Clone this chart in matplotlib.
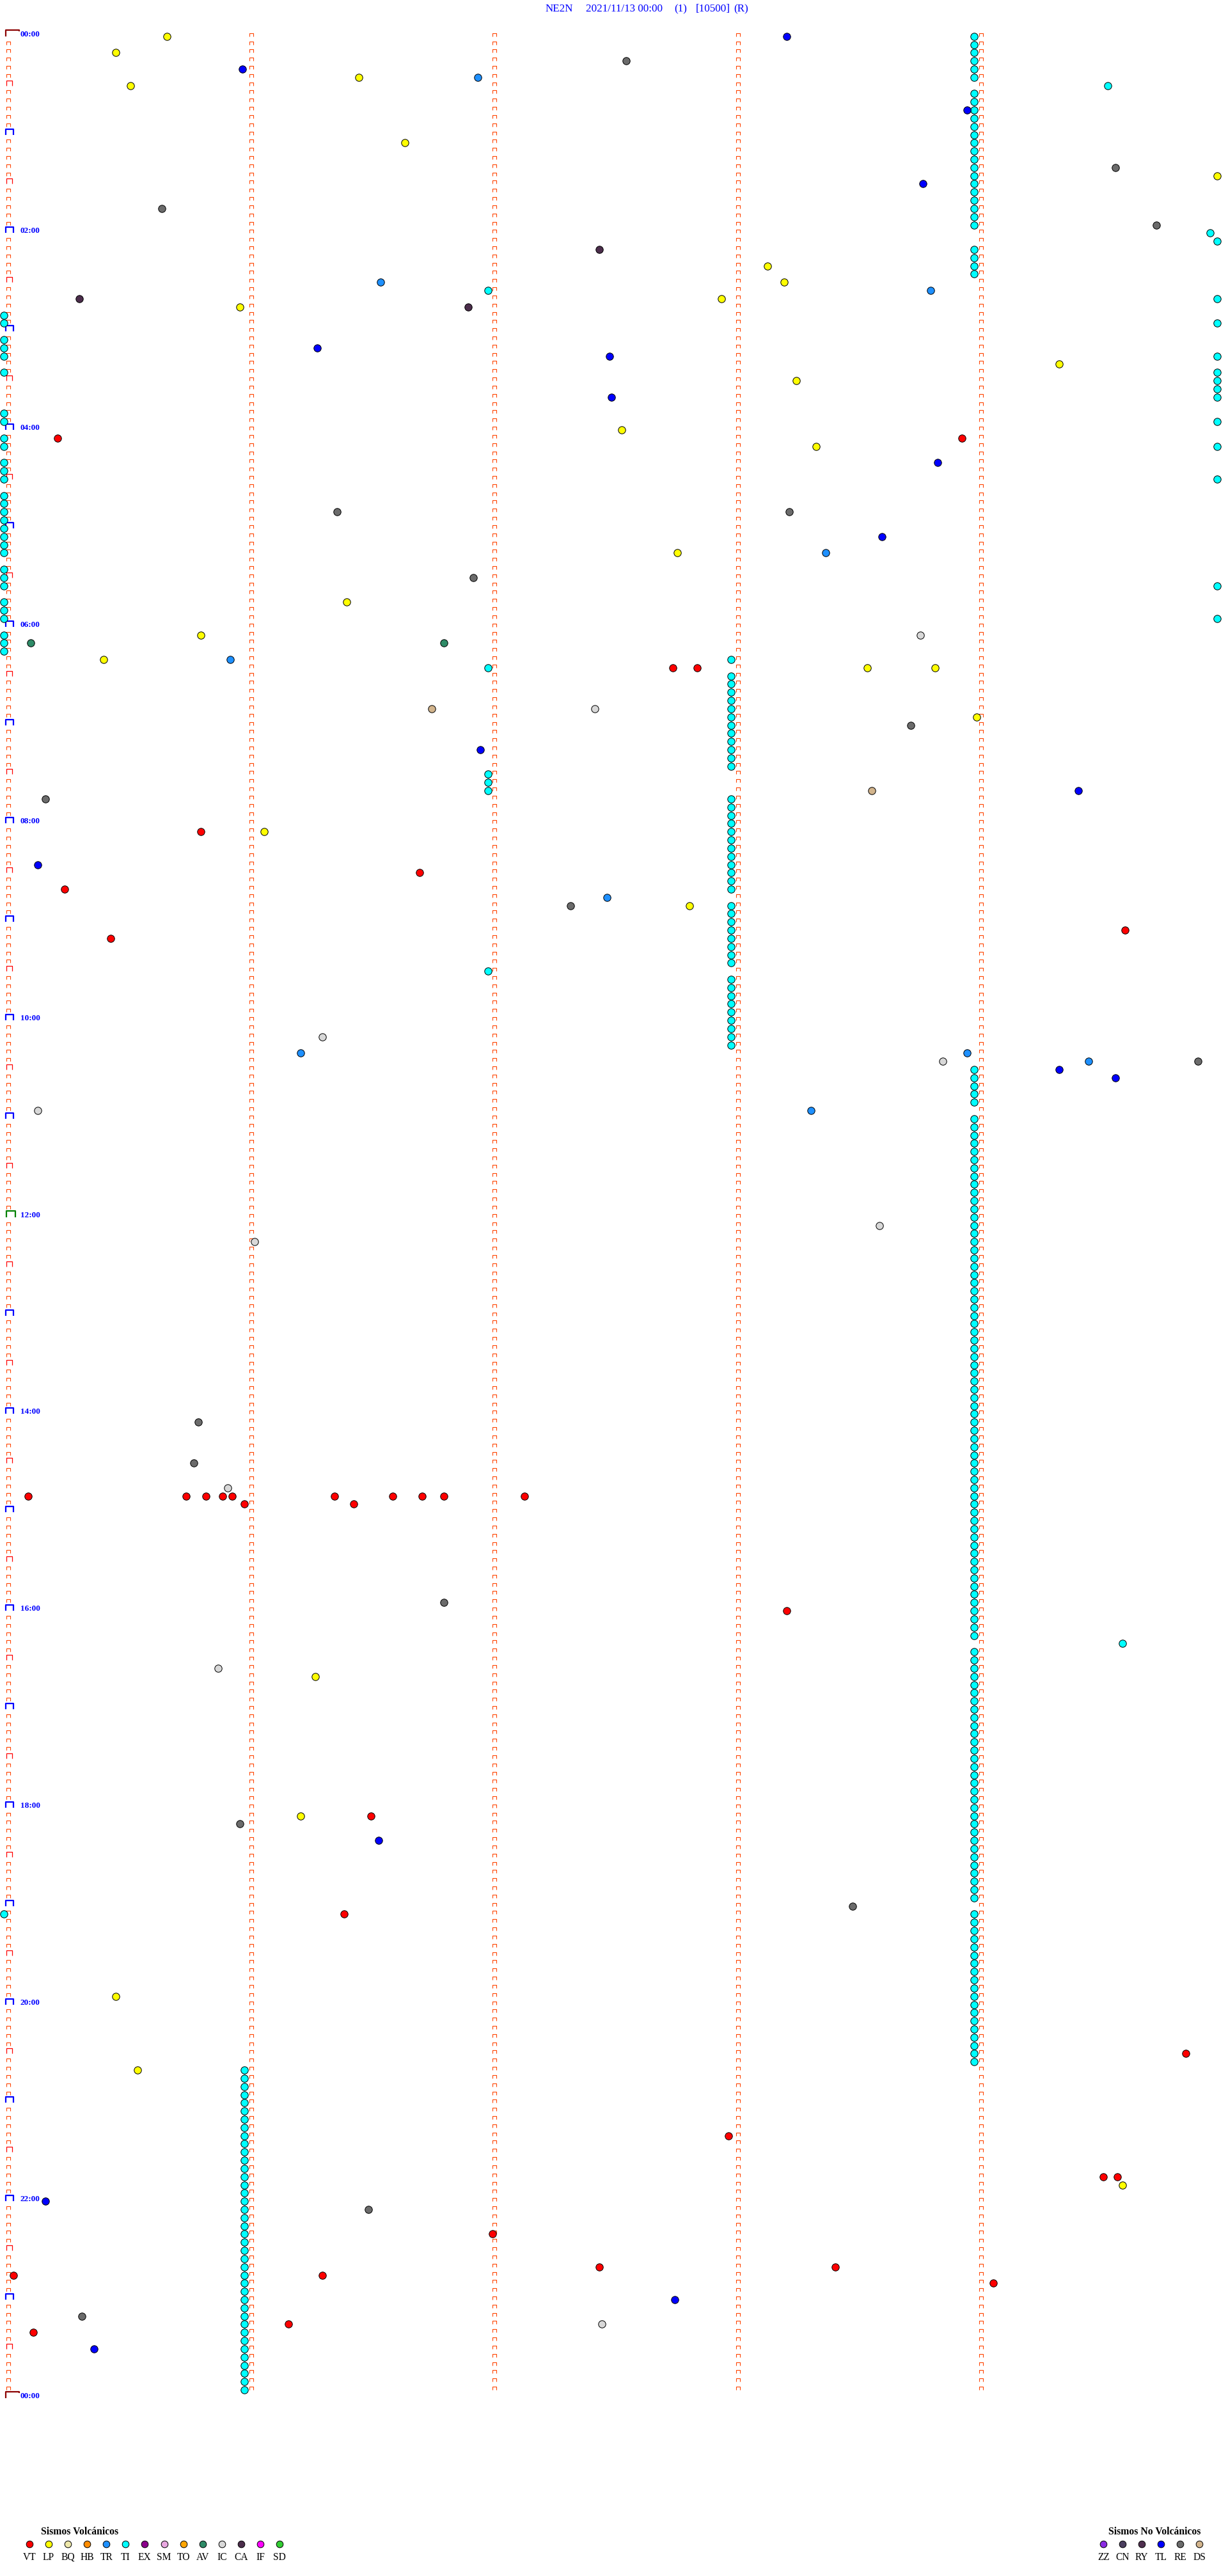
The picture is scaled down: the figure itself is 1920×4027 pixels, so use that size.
import numpy as np
import matplotlib
matplotlib.use("Agg")
import matplotlib.pyplot as plt
from matplotlib.transforms import ScaledTranslation

plt.rcParams['font.family'] = ['Liberation Serif', 'DejaVu Serif']

# ---------------- data ----------------
TITLE_PARTS = ['NE2N', '2021/11/13 00:00', '(1)', '[10500]', '(R)']
MIN_PER_ROW = 5          # each helicorder line spans 5 minutes
N_ROWS = 288             # 24 h
HOUR_LABELS = ['00:00', '02:00', '04:00', '06:00', '08:00', '10:00', '12:00',
               '14:00', '16:00', '18:00', '20:00', '22:00', '00:00']

VOLC_TYPES = ['VT', 'LP', 'BQ', 'HB', 'TR', 'TI', 'EX', 'SM', 'TO', 'AV', 'IC', 'CA', 'IF', 'SD']
VOLC_COLORS = ['#FF0000', '#FFFF00', '#EEE8AA', '#FF8C00', '#1E90FF', '#00FFFF', '#8B008B',
               '#E8A8E0', '#FFA500', '#2E8B67', '#D8D8D8', '#4B2D4B', '#FF00FF', '#32CD32']
NONVOLC_TYPES = ['ZZ', 'CN', 'RY', 'TL', 'RE', 'DS']
NONVOLC_COLORS = ['#8A2BE2', '#4B3F5F', '#4F2F4F', '#0000FF', '#6B6B6B', '#D2B48C']

# event times, minutes after 00:00
VT = [245.22, 248.94, 387.75, 387.85, 485.81, 511.71, 520.25, 549.61, 550.44,
      890.10, 890.75, 890.83, 890.90, 890.94, 891.36, 891.60, 891.72, 891.81, 892.14,
      895.99, 896.44, 963.22, 1086.51, 1146.40, 1234.86, 1282.98, 1309.52, 1309.58,
      1342.01, 1362.45, 1363.42, 1365.04, 1366.31, 1374.07, 1396.17, 1400.12]
LP = [0.67, 10.46, 26.46, 30.52, 66.65, 89.99, 143.14, 153.21, 162.95, 165.97, 204.34,
      213.26, 242.54, 253.34, 317.77, 346.41, 365.81, 380.41, 388.55, 388.83, 419.00,
      486.07, 532.82, 1001.28, 1086.22, 1195.46, 1240.55, 1314.60]
TR = [26.95, 151.55, 158.81, 318.38, 380.93, 527.48, 621.22, 623.96, 629.46, 658.32]
TI = [3.99, 8.99, 13.99, 18.99, 23.99, 28.99, 34.54,
      38.99, 43.99, 48.99, 53.99, 58.99, 63.99, 68.99, 73.99, 78.99, 83.99, 88.99,
      93.99, 98.99, 103.99, 108.99, 113.99, 118.99, 124.96, 129.99,
      133.99, 138.99, 143.99, 148.99, 156.99, 164.99,
      170.0, 175.0, 179.99, 185.0, 190.0, 195.0, 199.99, 205.0, 209.99, 214.99, 219.99, 224.99,
      230.0, 235.0, 239.99, 245.0, 250.0, 254.99, 260.0, 265.0, 270.0, 274.99,
      280.0, 285.0, 290.0, 295.0, 300.0, 305.0, 310.0, 315.0, 325.0, 330.0, 335.0, 339.99,
      345.0, 350.0, 355.0, 359.99, 365.0, 370.0, 375.0,
      382.99, 386.99,
      392.99, 397.99, 402.99, 407.99, 412.99, 417.99, 422.99, 427.99, 432.99, 437.99, 442.99, 447.99,
      451.99, 456.99, 461.99,
      467.99, 472.99, 477.99, 482.99, 487.99, 492.99, 497.99, 502.99, 507.99, 512.99, 517.99, 522.99,
      532.99, 537.99, 542.99, 547.99, 552.99, 557.99, 562.99, 567.99, 571.99,
      577.99, 582.99, 587.99, 592.99, 597.99, 602.99, 607.99, 612.99, 617.99,
      633.99, 638.99, 643.99, 648.99, 653.99,
      663.99, 668.99, 673.99, 678.99, 683.99, 688.99, 693.99, 698.99, 703.99, 708.99,
      713.99, 718.99, 723.99, 728.99, 733.99, 738.99, 743.99, 748.99, 753.99, 758.99,
      763.99, 768.99, 773.99, 778.99, 783.99, 788.99, 793.99, 798.99, 803.99, 808.99,
      813.99, 818.99, 823.99, 828.99, 833.99, 838.99, 843.99, 848.99, 853.99, 858.99,
      863.99, 868.99, 873.99, 878.99, 883.99, 888.99, 893.99, 898.99, 903.99, 908.99,
      913.99, 918.99, 923.99, 928.99, 933.99, 938.99, 943.99, 948.99, 953.99, 958.99,
      963.99, 968.99, 973.99, 978.99, 984.60,
      988.99, 993.99, 998.99, 1003.99, 1008.99, 1013.99, 1018.99, 1023.99, 1028.99, 1033.99,
      1038.99, 1043.99, 1048.99, 1053.99, 1058.99, 1063.99, 1068.99, 1073.99, 1078.99, 1083.99,
      1088.99, 1093.99, 1098.99, 1103.99, 1108.99, 1113.99, 1118.99, 1123.99, 1128.99, 1133.99,
      1138.99, 1145.0,
      1148.99, 1153.99, 1158.99, 1163.99, 1168.99, 1173.99, 1178.99, 1183.99, 1188.99, 1193.99,
      1198.99, 1203.99, 1208.99, 1213.99, 1218.99, 1223.99, 1228.99, 1233.99, 1238.99,
      1240.99, 1245.99, 1250.99, 1255.99, 1260.99, 1265.99, 1270.99, 1275.99, 1280.99, 1285.99,
      1290.99, 1295.99, 1300.99, 1305.99, 1310.99, 1315.99, 1320.99, 1325.99, 1330.99, 1335.99,
      1340.99, 1345.99, 1350.99, 1355.99, 1360.99, 1365.99, 1370.99, 1375.99, 1380.99, 1385.99,
      1390.99, 1395.99, 1400.99, 1405.99, 1410.99, 1415.99, 1420.99, 1425.99, 1430.99, 1435.99]
AV = [370.11, 371.81]
IC = [368.77, 412.43, 611.31, 628.86, 655.14, 728.60, 736.03, 885.92, 995.88, 1397.46]
CA = [132.45, 160.31, 166.91]
TL = [3.22, 20.98, 48.96, 93.78, 191.29, 197.49, 222.50, 263.84, 308.61, 436.96, 464.42,
      505.14, 634.34, 639.57, 1101.54, 1320.17, 1382.76, 1410.37]
RE = [17.56, 84.57, 105.65, 119.74, 291.37, 293.23, 331.93, 423.73, 465.17, 532.33, 629.91,
      845.80, 870.78, 956.81, 1090.97, 1143.49, 1326.50, 1390.32]
DS = [411.76, 463.57]

EVENTS = [('TI', TI), ('RE', RE), ('IC', IC), ('DS', DS), ('AV', AV), ('CA', CA),
          ('TR', TR), ('TL', TL), ('LP', LP), ('VT', VT)]

# ---------------- layout ----------------
W, H, DPI = 1920, 4027, 100
X0, PX_PER_MIN = 13.0, 380.2
Y0, PX_PER_ROW = 56.7, 12.82
PT = 72.0 / DPI

fig = plt.figure(figsize=(W / DPI, H / DPI), dpi=DPI)
fig.patch.set_facecolor('white')
ax = fig.add_axes([0, 0, 1, 1])
ax.set_xlim(-X0 / PX_PER_MIN, (W - X0) / PX_PER_MIN)
ax.set_ylim((H - Y0) / PX_PER_ROW, -Y0 / PX_PER_ROW)
ax.axis('off')

def mk(verts):
    m = max(max(abs(a), abs(b)) for a, b in verts)
    return verts, 2 * m * PT

SMALL = mk([(-3, 0), (-3, 5), (3, 5), (3, 0)])
HALF = mk([(-3, 0), (-3, 8), (6, 8), (6, 0)])
HOUR = mk([(-4, 0), (-4, 9), (8, 9), (8, 0)])
NOON = mk([(-3, 0), (-3, 10), (11, 10), (11, 0)])
MIDN = mk([(-4, 0), (-4, 10), (17, 10), (17, 8)])

rows = np.arange(N_ROWS)
for col in range(1, MIN_PER_ROW):
    ax.plot(np.full(N_ROWS, col), rows, ls='none', marker=SMALL[0], ms=SMALL[1],
            mec='#FF4500', mfc='none', mew=0.8, zorder=2)

rows_per_hour = 60 // MIN_PER_ROW
col0 = np.arange(N_ROWS + 1)
groups = {
    'small': (col0[(col0 % (rows_per_hour // 2) != 0) & (col0 < N_ROWS)], SMALL, '#FF4500', 0.8),
    'half': (col0[(col0 % rows_per_hour == rows_per_hour // 2)], HALF, '#FF0000', 0.9),
    'hour': (col0[(col0 % rows_per_hour == 0) & (col0 % (12 * rows_per_hour) != 0)], HOUR, '#0000FF', 1.6),
    'noon': (col0[(col0 % (24 * rows_per_hour) == 12 * rows_per_hour)], NOON, '#008000', 1.6),
    'midn': (col0[(col0 % (24 * rows_per_hour) == 0)], MIDN, '#8B0000', 1.6),
}
for name, (rr, (verts, ms), c, lw) in groups.items():
    ax.plot(np.zeros(len(rr)), rr, ls='none', marker=verts, ms=ms, mec=c, mfc='none',
            mew=lw, zorder=2)

for i, lab in enumerate(HOUR_LABELS):
    r = i * 120 / MIN_PER_ROW
    ax.annotate(lab, xy=(0, r), xytext=(19 * PT, 0), textcoords='offset points',
                ha='left', va='baseline', color='#0000FF', fontweight='bold',
                fontsize=13.2 * PT, zorder=3)

# events
color_of = dict(zip(VOLC_TYPES + NONVOLC_TYPES, VOLC_COLORS + NONVOLC_COLORS))
circle_tr = ax.transData + ScaledTranslation(-7 / DPI, 0, fig.dpi_scale_trans)
for name, times in EVENTS:
    t = np.asarray(times, dtype=float)
    r = np.floor(t / MIN_PER_ROW)
    m = t - MIN_PER_ROW * r
    ax.plot(m, r, ls='none', marker='o', ms=11.4 * PT, mfc=color_of[name], mec='black',
            mew=1.0 * PT, transform=circle_tr, zorder=4)

# title
def fx(x):
    return x / W

def fy(y):
    return 1 - y / H

TITLE_X = [853, 916, 1054, 1088, 1147]
for x, s in zip(TITLE_X, TITLE_PARTS):
    fig.text(fx(x), fy(18.5), s, color='#0000FF', fontsize=17 * PT, ha='left', va='baseline')

# legends
def legend(title, title_x, x0, dx, types, colors):
    fig.text(fx(title_x), fy(3962.3), title, fontweight='bold', fontsize=15.7 * PT,
             ha='left', va='baseline', color='black')
    xs = [x0 + dx * i for i in range(len(types))]
    ax.plot([fx(x) for x in xs], [fy(3977.3)] * len(xs), ls='none', marker='none',
            transform=fig.transFigure)
    for x, c, lab in zip(xs, colors, types):
        ax.plot([fx(x)], [fy(3977.3)], ls='none', marker='o', ms=10.6 * PT, mfc=c,
                mec='black', mew=1.0 * PT, transform=fig.transFigure, clip_on=False)
        fig.text(fx(x), fy(4001.7), lab, fontsize=15.5 * PT, ha='center',
                 va='baseline', color='black')

legend('Sismos Volcánicos', 63.5, 45.8, 30.1, VOLC_TYPES, VOLC_COLORS)
legend('Sismos No Volcánicos', 1733.0, 1725.3, 30.0, NONVOLC_TYPES, NONVOLC_COLORS)

fig.savefig('out.png', dpi=DPI, facecolor='white')
